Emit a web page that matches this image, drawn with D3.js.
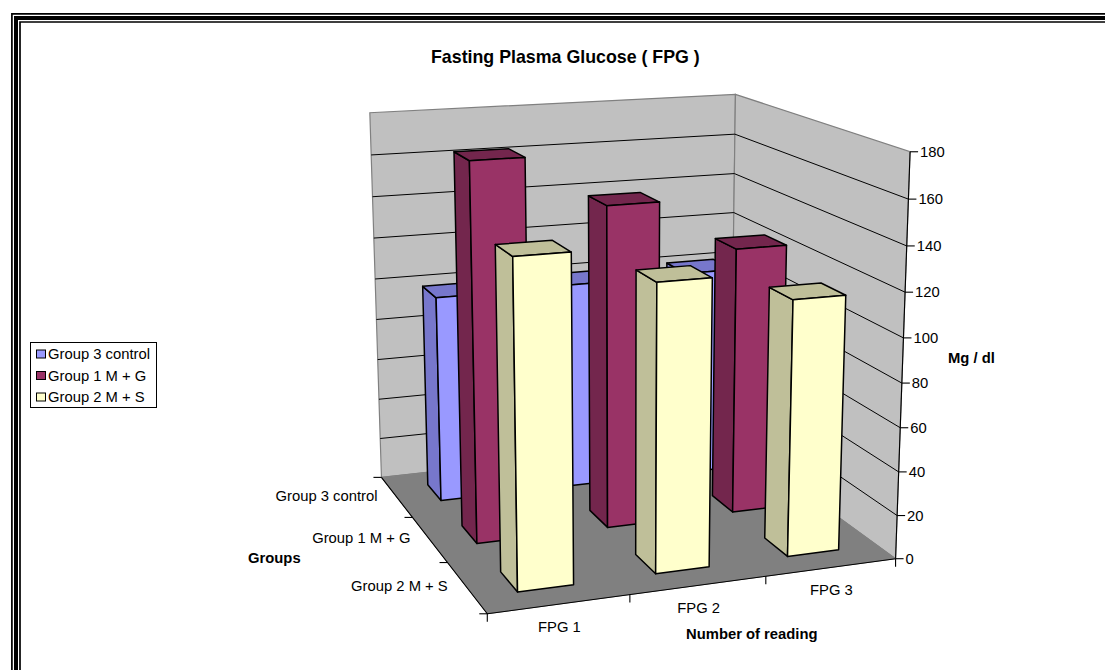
<!DOCTYPE html>
<html>
<head>
<meta charset="utf-8">
<script src="https://cdn.jsdelivr.net/npm/d3@7"></script>
<style>
  html, body { margin: 0; padding: 0; background: #fff; }
  svg { display: block; }
  text { font-family: "Liberation Sans", Arial, sans-serif; fill: #000; }
</style>
</head>
<body>
<div id="chart"></div>
<script>
const readings = ["FPG 1", "FPG 2", "FPG 3"];
const groups = ["Group 3 control", "Group 1 M + G", "Group 2 M + S"];
const control = [99, 100, 101];
const metGlip = [173, 149.5, 125.5];
const metSulf = [144, 128.5, 116];
const valueTicks = [0, 20, 40, 60, 80, 100, 120, 140, 160, 180];
const colors = ["#9999FF", "#993366", "#FFFFCC"];
const darkColors = ["#7777CC", "#73264D", "#BFBF99"];

const series = [control, metGlip, metSulf];

const svg = d3.select("#chart").append("svg")
  .attr("width", 1105)
  .attr("height", 670);

// Frame: only top and left sides fall inside the picture
[[11.9, 1.7], [16, 4], [20, 1.7]].forEach(([p, w]) => {
  svg.append("path")
    .attr("d", `M${p},670V${p + 2}H1105`)
    .attr("fill", "none")
    .attr("stroke", "#000")
    .attr("stroke-width", w);
});

// Scales into a unit box: x across readings, z from back wall to front, y up
const x = d3.scaleBand().domain(readings).range([0, 1]).paddingInner(0.6).paddingOuter(0.3);
const z = d3.scaleBand().domain(groups).range([0, 1]).paddingInner(0.6).paddingOuter(0.3);
const y = d3.scaleLinear().domain([0, 180]).range([0, 1]);

// Camera fitted to where the box corners and ticks sit on the page
const anchors = [
  [0, 0, 0, 381.7, 476.7], [0, 1, 0, 369.5, 113],
  [1, 0, 0, 731, 440], [1, 1, 0, 735, 94],
  [1, 0, 1, 895, 557], [1, 1, 1, 910, 152],
  [0, 0, 1, 488, 614],
  [1 / 3, 0, 1, 630, 595], [2 / 3, 0, 1, 766, 577],
  [0, 0, 1 / 3, 411.7, 517], [0, 0, 2 / 3, 446.7, 562.7],
  [1, 5 / 9, 1, 904, 338], [0, 5 / 9, 0, 376, 279], [1, 8 / 9, 0, 735, 134]
];

function fitCamera(pts) {
  const rows = [];
  pts.forEach(([X, Y, Z, u, v]) => {
    rows.push([X, Y, Z, 1, 0, 0, 0, 0, -u * X, -u * Y, -u * Z, u]);
    rows.push([0, 0, 0, 0, X, Y, Z, 1, -v * X, -v * Y, -v * Z, v]);
  });
  const n = 11;
  const A = d3.range(n).map(i => d3.range(n + 1).map(j => d3.sum(rows, r => r[i] * r[j])));
  for (let i = 0; i < n; i++) {
    let best = i;
    for (let k = i + 1; k < n; k++) if (Math.abs(A[k][i]) > Math.abs(A[best][i])) best = k;
    [A[i], A[best]] = [A[best], A[i]];
    for (let k = 0; k < n; k++) {
      if (k === i) continue;
      const f = A[k][i] / A[i][i];
      for (let j = i; j <= n; j++) A[k][j] -= f * A[i][j];
    }
  }
  return A.map((r, i) => r[n] / r[i]);
}

const cam = fitCamera(anchors);

function project(X, Y, Z) {
  const w = cam[8] * X + cam[9] * Y + cam[10] * Z + 1;
  return [
    (cam[0] * X + cam[1] * Y + cam[2] * Z + cam[3]) / w,
    (cam[4] * X + cam[5] * Y + cam[6] * Z + cam[7]) / w
  ];
}

const poly = corners => "M" + corners.map(c => project(...c).join(",")).join("L") + "Z";
const seg = (a, b) => "M" + project(...a).join(",") + "L" + project(...b).join(",");

// Walls and floor
svg.append("path").attr("d", poly([[0, 0, 0], [1, 0, 0], [1, 1, 0], [0, 1, 0]])).attr("fill", "#C0C0C0").attr("stroke", "#808080").attr("stroke-width", 1.2);
svg.append("path").attr("d", poly([[1, 0, 0], [1, 0, 1], [1, 1, 1], [1, 1, 0]])).attr("fill", "#C0C0C0").attr("stroke", "#808080").attr("stroke-width", 1.2);
svg.append("path").attr("d", poly([[0, 0, 0], [0, 0, 1], [1, 0, 1], [1, 0, 0]])).attr("fill", "#808080").attr("stroke", "#808080").attr("stroke-width", 1);

// Gridlines
const gridTicks = valueTicks.filter(d => d > 0 && d < 180);
svg.append("g").selectAll("path").data(gridTicks).join("path")
  .attr("d", d => seg([0, y(d), 0], [1, y(d), 0]) + seg([1, y(d), 0], [1, y(d), 1]))
  .attr("fill", "none").attr("stroke", "#000").attr("stroke-width", 1);

// Axis lines and ticks
const axes = svg.append("g").attr("fill", "none").attr("stroke", "#000").attr("stroke-width", 1.1);
axes.append("path").attr("d", seg([1, 0, 1], [1, 1, 1]));
axes.append("path").attr("d", seg([0, 0, 0], [0, 0, 1]) + seg([0, 0, 1], [1, 0, 1]));

valueTicks.forEach(d => {
  const [px, py] = project(1, y(d), 1);
  axes.append("path").attr("d", `M${px},${py}h8`);
  svg.append("text").attr("x", px + 10).attr("y", py + 5.3).attr("font-size", 14.8).text(d);
});

const step = x.step();
d3.range(readings.length + 1).forEach(i => {
  const [px, py] = project(i * step, 0, 1);
  axes.append("path").attr("d", `M${px},${py}v8`);
});
d3.range(groups.length + 1).forEach(i => {
  const [px, py] = project(0, 0, i * z.step());
  axes.append("path").attr("d", `M${px},${py}h-8`);
});

// Bars, painted back row first and right to left inside a row
const bars = [];
groups.forEach((g, gi) => {
  d3.range(readings.length - 1, -1, -1).forEach(ri => {
    bars.push({ group: g, reading: readings[ri], value: series[gi][ri], gi });
  });
});

const barG = svg.append("g").selectAll("g").data(bars).join("g")
  .attr("stroke", "#000").attr("stroke-width", 1.5).attr("stroke-linejoin", "round");

function faces(d) {
  const x0 = x(d.reading), x1 = x0 + x.bandwidth();
  const z0 = z(d.group), z1 = z0 + z.bandwidth();
  const h = y(d.value);
  return {
    side: [[x0, 0, z0], [x0, 0, z1], [x0, h, z1], [x0, h, z0]],
    top: [[x0, h, z0], [x0, h, z1], [x1, h, z1], [x1, h, z0]],
    front: [[x0, 0, z1], [x1, 0, z1], [x1, h, z1], [x0, h, z1]]
  };
}

barG.append("path").attr("d", d => poly(faces(d).side)).attr("fill", d => darkColors[d.gi]);
barG.append("path").attr("d", d => poly(faces(d).top)).attr("fill", d => darkColors[d.gi]);
barG.append("path").attr("d", d => poly(faces(d).front)).attr("fill", d => colors[d.gi]);

// Category labels
readings.forEach((r, i) => {
  const [px, py] = project((i + 0.5) * step, 0, 1);
  svg.append("text").attr("x", px).attr("y", py + 27.5).attr("text-anchor", "middle").attr("font-size", 14.8).text(r);
});
groups.forEach((g, i) => {
  const [px, py] = project(0, 0, (i + 0.5) * z.step());
  svg.append("text").attr("x", px - 19).attr("y", py + 4).attr("text-anchor", "end").attr("font-size", 14.8).text(g);
});

// Titles
const bold = (t, px, py, size) => svg.append("text").attr("x", px).attr("y", py)
  .attr("font-size", size).attr("font-weight", "bold").text(t);
bold("Fasting Plasma Glucose ( FPG )", 431, 63, 17.8);
bold("Groups", 248, 563, 14.8);
bold("Number of reading", 686, 639, 14.8);
bold("Mg / dl", 948, 363, 14.8);

// Legend
const legend = svg.append("g");
legend.append("rect").attr("x", 30.5).attr("y", 342.5).attr("width", 126).attr("height", 65)
  .attr("fill", "#fff").attr("stroke", "#000").attr("stroke-width", 1);
const legendY = d3.scalePoint().domain(groups).range([354, 397]);
groups.forEach((g, i) => {
  legend.append("rect").attr("x", 36.5).attr("y", legendY(g) - 4).attr("width", 9).attr("height", 8)
    .attr("fill", colors[i]).attr("stroke", "#000").attr("stroke-width", 1);
  legend.append("text").attr("x", 48).attr("y", legendY(g) + 5.3).attr("font-size", 14.8).text(g);
});
</script>
</body>
</html>
